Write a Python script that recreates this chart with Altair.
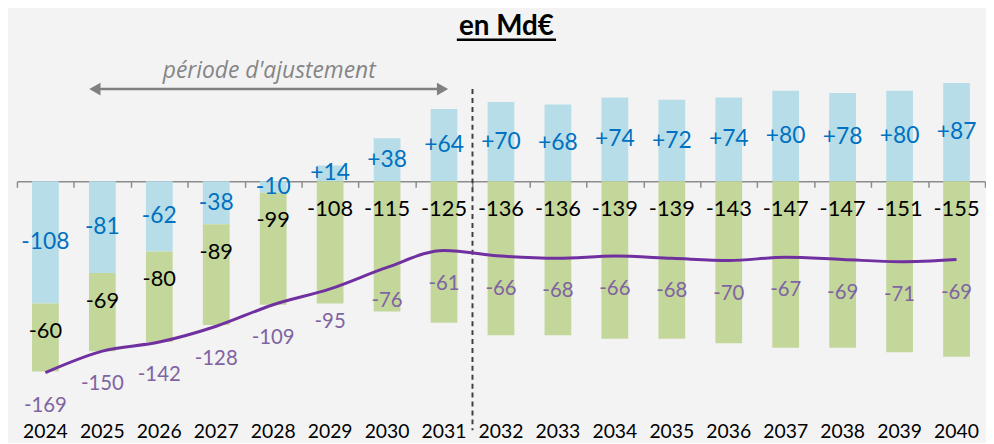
import altair as alt
import pandas as pd

years = [str(y) for y in range(2024, 2041)]
blue = [-108, -81, -62, -38, -10, 14, 38, 64, 70, 68, 74, 72, 74, 80, 78, 80, 87]
green = [-60, -69, -80, -89, -99, -108, -115, -125, -136, -136, -139, -139, -143, -147, -147, -151, -155]
total = [-169, -150, -142, -128, -109, -95, -76, -61, -66, -68, -66, -68, -70, -67, -69, -71, -69]

FONT = "Lato"
W = 976
H = 410
YMAX = 151.6
YMIN = -207.7
zero_px = H * YMAX / (YMAX - YMIN)
step = W / len(years)

wide = pd.DataFrame({"year": years, "blue": blue, "green": green, "total": total})
long = pd.DataFrame({
    "year": years * 2,
    "series": ["blue"] * len(years) + ["green"] * len(years),
    "value": blue + green,
    "order": [0] * len(years) + [1] * len(years),
})

xsc = alt.Scale(domain=years, paddingInner=0, paddingOuter=0)
ysc = alt.Scale(domain=[YMIN, YMAX], nice=False, zero=False)


def Yf(field, **kw):
    return alt.Y(field, scale=ysc, axis=None, title=None, **kw)


def Yd(v):
    return alt.YDatum(v, scale=ysc, axis=None)


def Xd(v):
    return alt.XDatum(v, type="nominal", scale=xsc, axis=None)


x_none = alt.X("year:N", sort=years, scale=xsc, axis=None)

bars = alt.Chart(long).mark_bar(width=alt.RelativeBandSize(0.47)).encode(
    x=x_none,
    y=Yf("value:Q", stack="zero"),
    color=alt.Color("series:N", scale=alt.Scale(domain=["blue", "green"],
                                                range=["#B7DEE8", "#C4D79B"]),
                    legend=None),
    order=alt.Order("order:Q"),
)

blue_lbl = alt.Chart(wide).transform_calculate(
    mid="datum.blue / 2",
    lbl="(datum.blue > 0 ? '+' : '') + datum.blue",
).mark_text(font=FONT, fontSize=23, color="#0070C0", baseline="middle").encode(
    x=x_none, y=Yf("mid:Q"), text="lbl:N")

green_lbl = alt.Chart(wide).transform_calculate(
    top="min(datum.blue, 0)",
    lbl="'' + datum.green",
).mark_text(font=FONT, fontSize=22, color="#000000", baseline="middle", dy=28).encode(
    x=x_none, y=Yf("top:Q"), text="lbl:N")

line = alt.Chart(wide).mark_line(color="#7030A0", strokeWidth=3, interpolate="monotone").encode(
    x=x_none, y=Yf("total:Q"))

total_lbl = alt.Chart(wide).transform_calculate(
    lbl="'' + datum.total",
).mark_text(font=FONT, fontSize=20.5, color="#8064A2", baseline="middle", dy=33.5).encode(
    x=x_none, y=Yf("total:Q"), text="lbl:N")

one = alt.Data(values=[{}])

divider = alt.Chart(one).mark_rule(color="#404040", strokeWidth=2, strokeDash=[5, 4],
                                   xOffset=-step / 2, y2Offset=14).encode(
    x=Xd("2032"), y=Yd(81.5), y2=alt.Y2Datum(YMIN))

arrow = alt.Chart(one).mark_rule(color="#808080", strokeWidth=2.5,
                                 xOffset=-7, x2Offset=-2).encode(
    x=Xd("2025"), x2=alt.X2Datum("2031"), y=Yd(81.5))
head_l = alt.Chart(one).mark_point(shape="triangle-left", filled=True, size=170,
                                   color="#808080", opacity=1, xOffset=-7.5).encode(
    x=Xd("2025"), y=Yd(81.5))
head_r = alt.Chart(one).mark_point(shape="triangle-right", filled=True, size=170,
                                   color="#808080", opacity=1, xOffset=-1.5).encode(
    x=Xd("2031"), y=Yd(81.5))
period = alt.Chart(one).mark_text(text="période d'ajustement", font="Open Sans", fontSize=23,
                                  fontStyle="italic", color="#858585", xOffset=-4,
                                  baseline="middle").encode(
    x=Xd("2028"), y=Yd(97.3))

title = alt.Chart(one).mark_text(text="en Md€", font=FONT, fontSize=28, fontWeight="bold",
                                 color="#000000", xOffset=5.5, baseline="middle").encode(
    x=Xd("2032"), y=Yd(136.7))
underline = alt.Chart(one).mark_rule(color="#000000", strokeWidth=2.5,
                                     xOffset=-44.5, x2Offset=55.5).encode(
    x=Xd("2032"), x2=alt.X2Datum("2032"), y=Yd(125.2))

zero_axis = alt.Chart(wide).mark_point(opacity=0).encode(
    x=alt.X("year:N", sort=years, scale=xsc, title=None,
            axis=alt.Axis(orient="bottom", offset=-(H - zero_px), labels=False,
                          ticks=True, tickBand="extent", tickSize=6, tickColor="#8C8C8C",
                          tickWidth=1.5, domain=True, domainColor="#8C8C8C",
                          domainWidth=1.5, grid=False)),
    y=Yf("total:Q"),
)

year_axis = alt.Chart(wide).mark_point(opacity=0).encode(
    x=alt.X("year:N", sort=years, scale=xsc, title=None,
            axis=alt.Axis(orient="bottom", labelAngle=0, labelFont=FONT, labelFontSize=19.5,
                          labelColor="#000000", ticks=False, domain=False,
                          labelPadding=6, grid=False)),
    y=Yf("total:Q"),
)

main = alt.layer(bars, blue_lbl, green_lbl, divider, line, total_lbl,
                 arrow, head_l, head_r, period, title, underline)

chart = alt.layer(zero_axis, year_axis, main).resolve_axis(x="independent").properties(
    width=W, height=H,
    padding={"left": 8, "top": 0, "right": 0, "bottom": 0},
    background="#F3F3F3",
).configure_view(stroke=None)

chart.save("out.html", embed_options={"renderer": "svg", "actions": False})
